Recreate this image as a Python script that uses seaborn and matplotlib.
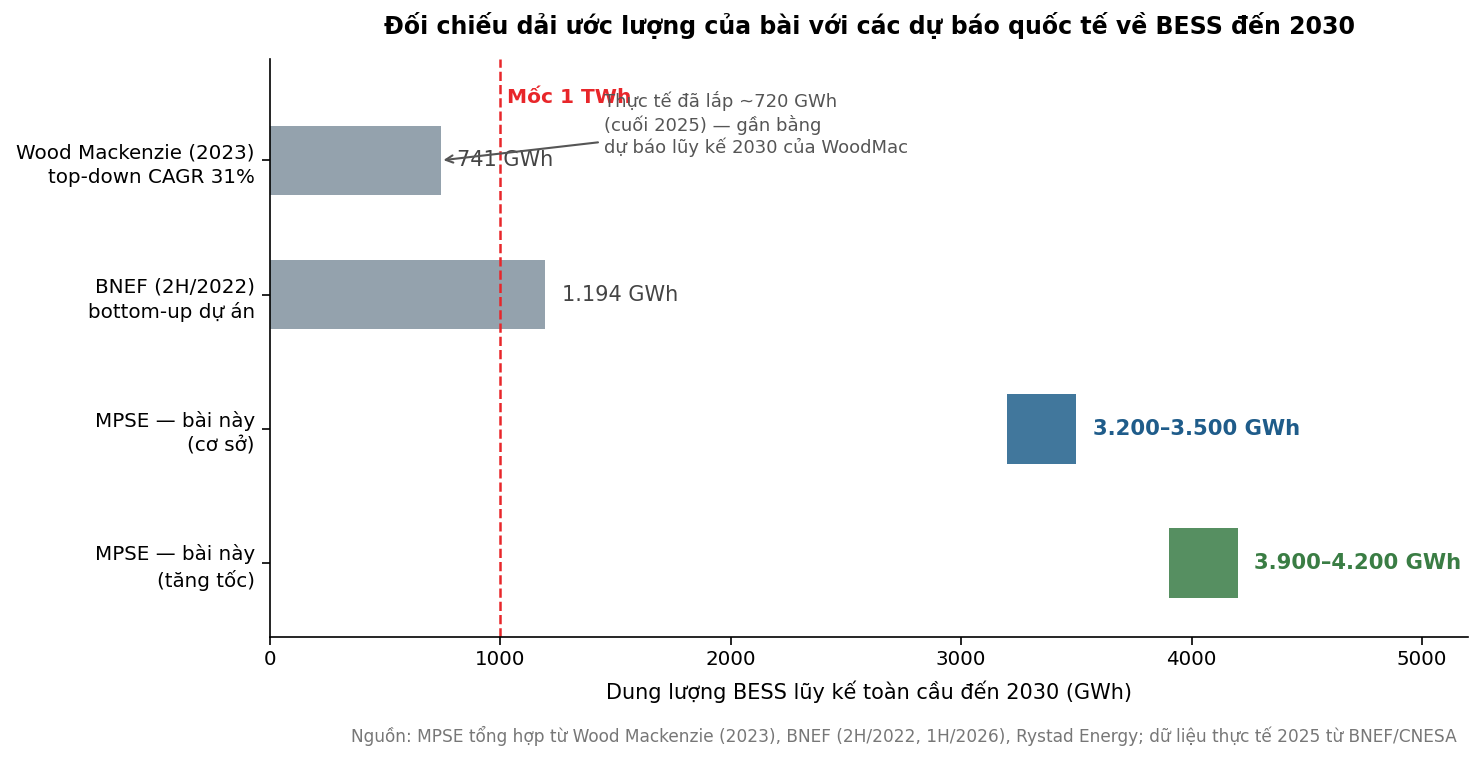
import matplotlib
matplotlib.use("Agg")
import matplotlib.pyplot as plt
import seaborn as sns
import pandas as pd

categories = [
    "Wood Mackenzie (2023)\ntop-down CAGR 31%",
    "BNEF (2H/2022)\nbottom-up dự án",
    "MPSE — bài này\n(cơ sở)",
    "MPSE — bài này\n(tăng tốc)",
]
low_values = [0, 0, 3200, 3900]
high_values = [741, 1194, 3500, 4200]
value_labels = ["741 GWh", "1.194 GWh", "3.200–3.500 GWh", "3.900–4.200 GWh"]
bar_colors = ["#94A2AD", "#94A2AD", "#41779C", "#568F61"]
label_colors = ["#444444", "#444444", "#1F5C8A", "#3A7D44"]
label_bold = [False, False, True, True]
milestone = 1000
actual_2025 = 741

sns.set_theme(style="ticks")
plt.rcParams["font.family"] = ["DejaVu Sans"]

df = pd.DataFrame({
    "cat": categories,
    "width": [h - l for h, l in zip(high_values, low_values)],
})

fig, ax = plt.subplots(figsize=(14.83, 7.6), dpi=100)
fig.subplots_adjust(left=0.182, right=0.99, top=0.922, bottom=0.162)

sns.barplot(data=df, x="width", y="cat", hue="cat", order=categories,
            hue_order=categories, palette=bar_colors, legend=False,
            width=0.52, saturation=1, linewidth=0, ax=ax)
for patch, lo in zip(ax.patches, low_values):
    patch.set_x(lo)

for i, (hi, txt, col, b) in enumerate(zip(high_values, value_labels, label_colors, label_bold)):
    ax.text(hi + 72, i, txt, va="center", ha="left", color=col,
            fontsize=15.2 if b else 15, fontweight="bold" if b else "normal")

ax.axvline(milestone, color="#E8262A", ls="--", lw=1.8)
ax.text(milestone + 30, -0.47, "Mốc 1 TWh", color="#E8262A",
        fontsize=14.5, fontweight="bold", va="center", ha="left")

ax.annotate("Thực tế đã lắp ~720 GWh\n(cuối 2025) — gần bằng\ndự báo lũy kế 2030 của WoodMac",
            xy=(actual_2025, 0), xytext=(1450, -0.27),
            fontsize=13, color="#555555", va="center", ha="left",
            arrowprops=dict(arrowstyle="->", color="#555555", lw=1.5))

ax.set_xlim(0, 5200)
ax.set_ylim(3.552, -0.754)
ax.set_xticks([0, 1000, 2000, 3000, 4000, 5000])
ax.tick_params(axis="both", labelsize=14.3, colors="black", labelcolor="black",
               length=6, width=1.2)
ax.tick_params(axis="y", pad=5)
for lab in ax.get_yticklabels():
    lab.set_linespacing(1.35)
ax.set_xlabel("Dung lượng BESS lũy kế toàn cầu đến 2030 (GWh)", fontsize=15,
              color="black", labelpad=8)
ax.set_ylabel("")
for s in ["top", "right"]:
    ax.spines[s].set_visible(False)
for s in ["left", "bottom"]:
    ax.spines[s].set_color("black")
    ax.spines[s].set_linewidth(1.2)

ax.set_title("Đối chiếu dải ước lượng của bài với các dự báo quốc tế về BESS đến 2030",
             fontsize=17, fontweight="bold", color="black", pad=18)
fig.text(0.982, 0.032,
         "Nguồn: MPSE tổng hợp từ Wood Mackenzie (2023), BNEF (2H/2022, 1H/2026), Rystad Energy; dữ liệu thực tế 2025 từ BNEF/CNESA",
         ha="right", va="center", fontsize=12.28, color="#777777")

fig.savefig("out.png", dpi=100)
